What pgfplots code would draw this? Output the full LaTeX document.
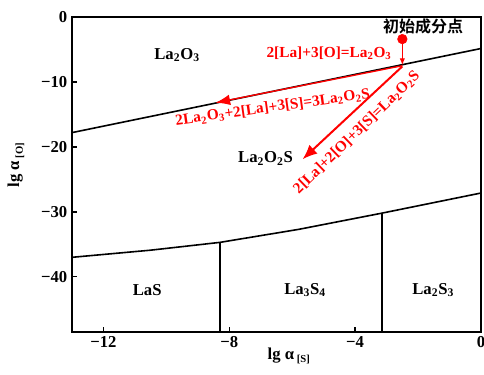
\documentclass[border=0pt]{standalone}
\usepackage{pgfplots}
\pgfplotsset{compat=1.18}
\usepackage{fontspec}
\setmainfont{Liberation Serif}
\newfontfamily\cjk{Noto Sans CJK SC}[BoldFont={* Bold}]
\usetikzlibrary{arrows.meta}
\newcommand{\sub}[1]{\textsubscript{#1}}
\begin{document}
\begin{tikzpicture}
\begin{axis}[
  name=ax,
  scale only axis,
  width=306.75pt, height=236.25pt,
  xmin=-13, xmax=0, ymin=-48.5, ymax=0,
  xtick={-12,-8,-4,0}, xticklabels={−12,−8,−4,0},
  ytick={0,-10,-20,-30,-40}, yticklabels={0,−10,−20,−30,−40},
  tick align=inside, xtick pos=bottom, ytick pos=left,
  major tick length=4pt,
  axis line style={line width=1.4pt},
  every tick/.style={line width=1pt, black},
  tick label style={font=\fontsize{12.5}{14}\selectfont\bfseries},
  xlabel={lg α\,\raisebox{-0.5ex}{\fontsize{8}{9}\selectfont [S]}},
  ylabel={lg α\,\raisebox{-0.5ex}{\fontsize{8}{9}\selectfont [O]}},
  label style={font=\fontsize{12.5}{14}\selectfont\bfseries},
  xlabel style={at={(axis description cs:0.53,-0.076)}, anchor=center},
  ylabel style={at={(axis description cs:-0.137,0.53)}, anchor=center},
  clip=true,
]
% phase boundaries
\addplot[black, line width=1.2pt] coordinates {(-13,-17.8) (0,-4.85)};
\addplot[black, line width=1.2pt] coordinates {(-13,-37.0) (-10.5,-35.9) (-8.3,-34.7) (-5.8,-32.7) (-3.15,-30.2) (0,-27.1)};
\addplot[black, line width=1.2pt] coordinates {(-8.3,-34.7) (-8.3,-48.5)};
\addplot[black, line width=1.2pt] coordinates {(-3.15,-30.2) (-3.15,-48.5)};
% reaction paths
\addplot[red, line width=0.8pt, -{Latex[length=5pt,width=4pt]}] coordinates {(-2.5,-3.4) (-2.5,-7.4)};
\addplot[red, line width=1pt, -{Latex[length=11pt,width=8pt]}] coordinates {(-2.5,-7.5) (-8.44,-13.2)};
\addplot[red, line width=1.5pt, -{Latex[length=11pt,width=9pt]}] coordinates {(-2.5,-7.6) (-5.67,-21.9)};
\addplot[only marks, mark=*, red, mark size=3.6pt] coordinates {(-2.5,-3.4)};
% region labels
\begin{scope}[every node/.style={font=\fontsize{12.5}{14}\selectfont\bfseries}]
\node at (axis cs:-9.66,-5.85) {La\sub{2}O\sub{3}};
\node at (axis cs:-6.85,-21.8) {La\sub{2}O\sub{2}S};
\node at (axis cs:-10.61,-42) {LaS};
\node at (axis cs:-5.59,-42) {La\sub{3}S\sub{4}};
\node at (axis cs:-1.52,-42) {La\sub{2}S\sub{3}};
\end{scope}
\node[font=\cjk\fontsize{12}{14}\selectfont\bfseries] at (axis cs:-1.84,-1.5) {初始成分点};
\begin{scope}[every node/.style={red, font=\fontsize{11.5}{13}\selectfont\bfseries, inner sep=0pt}]
\node at (axis cs:-4.83,-5.54) {2[La]+3[O]=La\sub{2}O\sub{3}};
\node[rotate=8] at (axis cs:-6.62,-13.95) {2La\sub{2}O\sub{3}+2[La]+3[S]=3La\sub{2}O\sub{2}S};
\node[rotate=44] at (axis cs:-3.95,-17.8) {2[La]+2[O]+3[S]=La\sub{2}O\sub{2}S};
\end{scope}
\end{axis}
\pgfresetboundingbox
\path[use as bounding box] (ax.south west) ++(-54pt,-31.5pt) rectangle ([shift={(2.25pt,12.75pt)}]ax.north east);
\end{tikzpicture}
\end{document}
